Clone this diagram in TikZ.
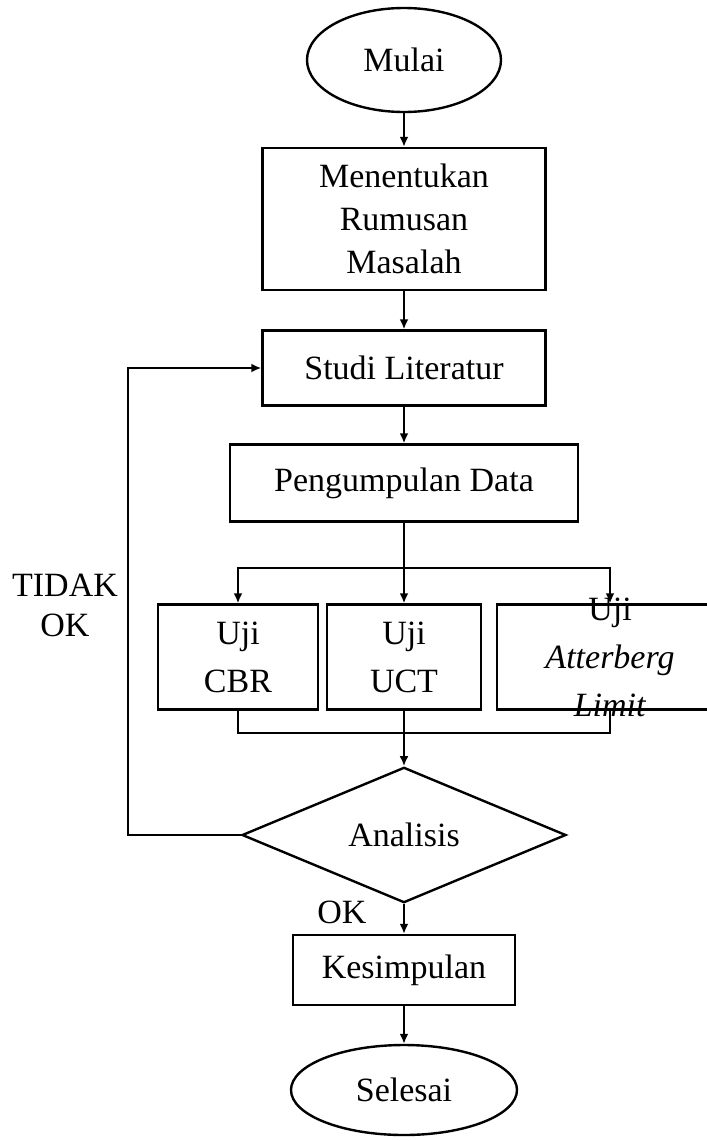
\documentclass[tikz,border=0pt]{standalone}
\usepackage{fontspec}
\setmainfont{Liberation Serif}
\usetikzlibrary{shapes.geometric,arrows.meta}
\tikzset{
	kotak/.style={draw, rectangle, align=center, inner sep=2pt, line width=1.2pt},
	terminal/.style={draw, ellipse, inner sep=0pt, line width=1.2pt},
	keputusan/.style={draw, diamond, inner sep=0pt, line width=1.2pt},
	uji/.style={kotak, minimum height=52.5pt, font=\fontsize{17}{24}\selectfont}
}
\begin{document}
\begin{tikzpicture}[x=0.5pt, y=-0.5pt, >={Latex[length=5pt,width=4.5pt]}, line width=1pt, font=\fontsize{17}{21.5}\selectfont]
	\useasboundingbox (0,0) rectangle (707,1141);
	% alur utama
	\node[terminal, minimum width=97pt, minimum height=52pt] (mulai) at (404,60) {Mulai};
	\node[kotak, minimum width=141.5pt, minimum height=71pt] (rumusan) at (404,219) {Menentukan\\Rumusan\\Masalah};
	\node[kotak, minimum width=141.5pt, minimum height=37.5pt] (studi) at (404,368) {Studi Literatur};
	\node[kotak, minimum width=174pt, minimum height=38.5pt] (data) at (404,483) {Pengumpulan Data};
	% pengujian
	\node[uji, minimum width=80pt] (cbr) at (238,657) {Uji\\CBR};
	\node[uji, minimum width=77pt] (uct) at (404,657) {Uji\\UCT};
	\node[uji, minimum width=113pt] (atb) at (610,657) {};
	\node[align=center, font=\fontsize{17}{24}\selectfont] (atbteks) at (atb.center) {Uji\\\textit{Atterberg}\\\textit{Limit}};
	\node[keputusan, minimum width=162pt, minimum height=65pt] (ana) at (404,835) {Analisis};
	\node[kotak, minimum width=111pt, minimum height=35pt] (kesimpulan) at (404,970) {Kesimpulan};
	\node[terminal, minimum width=113pt, minimum height=45pt] (selesai) at (404,1090) {Selesai};
	% label
	\node[align=center, font=\fontsize{17}{20}\selectfont] (tidak) at (65,605) {TIDAK\\OK};
	\node (ok) at (342,912) {OK};
	\coordinate (cabang) at (404,568);
	\coordinate (gabung) at (404,733);
	\coordinate (kiri) at (128,600);
	% panah
	\draw[->] (mulai) -- (rumusan);
	\draw[->] (rumusan) -- (studi);
	\draw[->] (studi) -- (data);
	\draw (data) -- (cabang);
	\draw[->] (cabang) -| (cbr.north);
	\draw[->] (cabang) -| (atb.north);
	\draw[->] (cabang) -- (uct);
	\draw (cbr.south) |- (gabung);
	\draw (atb.south) |- (gabung);
	\draw[->] (uct) -- (ana);
	\draw[->] (ana.west) -| (kiri) |- (studi.west);
	\draw[->] (ana) -- (kesimpulan);
	\draw[->] (kesimpulan) -- (selesai);
\end{tikzpicture}
\end{document}
